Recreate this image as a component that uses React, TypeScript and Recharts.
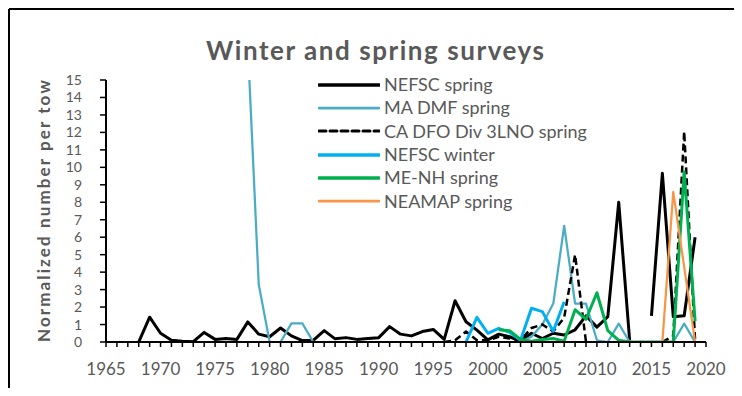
import { LineChart, Line, XAxis, YAxis } from "recharts";

// Survey indices by year; each series starts at its own first survey year.
// null = no survey that year (drawn as a gap).
const nefscSpringStart = 1968;
const nefscSpring = [
  0, 1.42, 0.5, 0.1, 0.05, 0.02, 0.55, 0.15, 0.2, 0.15, // 1968-1977
  1.15, 0.45, 0.3, 0.8, 0.35, 0.08, 0.1, 0.65, 0.18, 0.25, // 1978-1987
  0.15, 0.2, 0.25, 0.88, 0.45, 0.35, 0.6, 0.72, 0.15, 2.36, // 1988-1997
  1.16, 0.68, 0.12, 0.45, 0.3, 0.05, 0.5, 0.2, 0.5, 0.4, // 1998-2007
  0.7, 1.5, 0.85, 1.45, 8.0, 0.1, null, 1.5, 9.66, 1.45, // 2008-2017
  1.5, 6.0, // 2018-2019
];

const maDmfStart = 1978;
const maDmf = [
  17, 3.3, 0, 0, 1.07, 1.07, 0, 0, 0, 0, // 1978-1987
  0, 0, 0, 0, 0, 0, 0, 0, 0, 0, // 1988-1997
  0, 0, 0, 0, 0, 0, 0.3, 1.0, 2.2, 6.65, // 1998-2007
  2.2, 2.2, 0.1, 0, 1.05, 0, 0, 0, 0, 0, // 2008-2017
  1.05, 0, // 2018-2019
];

const caDfoStart = 1996;
const caDfo = [
  0, 0.1, 0.6, 0.1, 0.1, 0.3, 0.2, 0.1, 0.8, 1.0, // 1996-2005
  0.6, 1.4, 5.0, 0, null, null, null, null, null, null, // 2006-2015
  0, 0.35, 12.05, 0.1, // 2016-2019
];

const nefscWinterStart = 1998;
const nefscWinter = [0, 1.41, 0.5, 0.78, 0.55, 0.1, 1.93, 1.74, 0.62, 2.3];

const meNhStart = 2001;
const meNh = [
  0.7, 0.65, 0.15, 0.05, 0.15, 0.2, 0.05, 1.85, 1.3, 2.82, // 2001-2010
  0.65, 0.1, 0, 0, 0, 0, 0, 9.75, 1.2, // 2011-2019
];

const neamapStart = 2008;
const neamap = [0, 0, 0, 0, 0, 0, 0, 0, 0, 8.6, 4.3, 0];

const firstYear = 1965;
const lastYear = 2020;
const yTicks = [0, 1, 2, 3, 4, 5, 6, 7, 8, 9, 10, 11, 12, 13, 14, 15];

const series = [
  { key: "nefscSpring", name: "NEFSC spring", color: "#000000", width: 3, dash: undefined, start: nefscSpringStart, values: nefscSpring },
  { key: "maDmf", name: "MA DMF spring", color: "#4BACC6", width: 2.25, dash: undefined, start: maDmfStart, values: maDmf },
  { key: "caDfo", name: "CA DFO Div 3LNO spring", color: "#000000", width: 2.5, dash: "7 4", start: caDfoStart, values: caDfo },
  { key: "nefscWinter", name: "NEFSC winter", color: "#00B0F0", width: 3, dash: undefined, start: nefscWinterStart, values: nefscWinter },
  { key: "meNh", name: "ME-NH spring", color: "#00B050", width: 3, dash: undefined, start: meNhStart, values: meNh },
  { key: "neamap", name: "NEAMAP spring", color: "#F79646", width: 2.25, dash: undefined, start: neamapStart, values: neamap },
];

const years: number[] = [];
for (let y = firstYear; y <= lastYear; y++) years.push(y);

const data = years.map((year) => {
  const row: Record<string, number | null> = { year };
  for (const s of series) {
    const i = year - s.start;
    row[s.key] = i >= 0 && i < s.values.length ? s.values[i] : null;
  }
  return row;
});

const textGray = "#595959";
const font = "Lato, 'Open Sans', sans-serif";

// Legend sits inside the plot, so it is laid over the chart instead of
// taking space from it.
function SurveyLegend() {
  return (
    <div style={{ position: "absolute", left: 318, top: 73 }}>
      {series.map((s) => (
        <div key={s.key} style={{ display: "flex", alignItems: "center", height: 23.33 }}>
          <svg width={62} height={10} style={{ marginRight: 4 }}>
            <line
              x1={1}
              x2={61}
              y1={5}
              y2={5}
              stroke={s.color}
              strokeWidth={s.width + 0.5}
              strokeDasharray={s.dash}
              strokeLinecap="round"
            />
          </svg>
          <span style={{ color: textGray, fontSize: 18, lineHeight: "23px", whiteSpace: "nowrap" }}>{s.name}</span>
        </div>
      ))}
    </div>
  );
}

export default function App() {
  return (
    <div
      style={{
        margin: -8,
        width: 742,
        height: 396,
        overflow: "hidden",
        position: "relative",
        background: "#fff",
        fontFamily: font,
      }}
    >
      <LineChart
        width={742}
        height={396}
        data={data}
        margin={{ top: 80, right: 36, bottom: 24, left: 0 }}
      >
        <XAxis
          dataKey="year"
          type="number"
          domain={[firstYear, lastYear]}
          ticks={years}
          interval={0}
          tickFormatter={(y: number) => (y % 5 === 0 ? String(y) : "")}
          height={30}
          tickSize={5}
          tickMargin={16}
          axisLine={{ stroke: "#000", strokeWidth: 2 }}
          tickLine={{ stroke: "#000", strokeWidth: 1.5 }}
          tick={{ fill: textGray, fontSize: 17, fontFamily: font }}
        />
        <YAxis
          type="number"
          domain={[0, 15]}
          ticks={yTicks}
          interval={0}
          allowDataOverflow
          width={106}
          tickSize={6}
          tickMargin={18}
          axisLine={{ stroke: "#000", strokeWidth: 2 }}
          tickLine={{ stroke: "#000", strokeWidth: 1.5 }}
          tick={{ fill: textGray, fontSize: 14, fontFamily: font }}
        />
        {series.map((s) => (
          <Line
            key={s.key}
            dataKey={s.key}
            name={s.name}
            stroke={s.color}
            strokeWidth={s.width}
            strokeDasharray={s.dash}
            dot={false}
            activeDot={false}
            connectNulls={false}
            isAnimationActive={false}
            strokeLinejoin="round"
          />
        ))}
      </LineChart>

      <SurveyLegend />

      {/* chart frame, title and axis titles */}
      <svg
        width={742}
        height={396}
        style={{ position: "absolute", left: 0, top: 0, pointerEvents: "none" }}
      >
        <line x1={9} y1={9} x2={742} y2={9} stroke="#000" strokeWidth={2} />
        <line x1={9} y1={9} x2={9} y2={396} stroke="#000" strokeWidth={2} />
        <text
          x={375}
          y={60}
          textAnchor="middle"
          fill={textGray}
          fontSize={26}
          fontWeight={700}
          fontFamily={font}
          textLength={338}
          lengthAdjust="spacing"
        >
          Winter and spring surveys
        </text>
        <text
          transform="translate(50, 211) rotate(-90)"
          textAnchor="middle"
          fill={textGray}
          fontSize={17}
          fontWeight={700}
          fontFamily={font}
          textLength={262}
          lengthAdjust="spacing"
        >
          Normalized number per tow
        </text>
        <text x={406} y={402} textAnchor="middle" fill={textGray} fontSize={18} fontWeight={700} fontFamily={font}>
          Year
        </text>
      </svg>
    </div>
  );
}
